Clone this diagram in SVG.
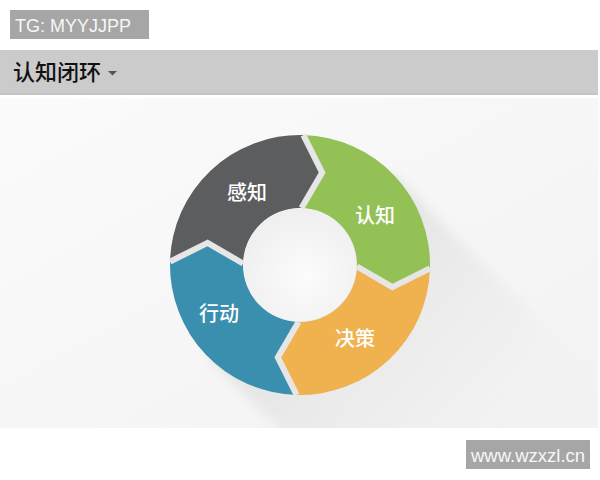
<svg xmlns="http://www.w3.org/2000/svg" width="600" height="480" viewBox="0 0 600 480">
  <defs>
    <style>
      .tag { fill: #a6a6a6; }
      .tagtxt { font-family: "Liberation Sans", Arial, sans-serif; font-size: 18px; fill: #f7f7f7; }
      .title { font-family: "Noto Sans CJK SC", "Noto Sans", sans-serif; font-size: 22px; font-weight: 500; fill: #111111; }
      .lbl { font-family: "Noto Sans CJK SC", "Noto Sans", sans-serif; font-size: 20px; font-weight: 500; fill: #ffffff; text-anchor: middle; }
      .sep { fill: none; stroke: #e6e6e6; stroke-width: 6; stroke-linejoin: miter; }
    </style>
    <linearGradient id="panelGrad" x1="0" y1="0" x2="1" y2="1">
      <stop offset="0" stop-color="#fbfbfb"/>
      <stop offset="1" stop-color="#f2f2f2"/>
    </linearGradient>
    <linearGradient id="shadowGrad" gradientUnits="userSpaceOnUse" x1="300" y1="265" x2="500" y2="465">
      <stop offset="0" stop-color="#d2d2d2" stop-opacity="0.6"/>
      <stop offset="0.6" stop-color="#dedede" stop-opacity="0.25"/>
      <stop offset="1" stop-color="#e8e8e8" stop-opacity="0"/>
    </linearGradient>
    <radialGradient id="holeGrad" cx="0.55" cy="0.6" r="0.6">
      <stop offset="0" stop-color="#fcfcfc"/>
      <stop offset="1" stop-color="#efefef"/>
    </radialGradient>
    <filter id="blur" x="-20%" y="-20%" width="140%" height="140%">
      <feGaussianBlur stdDeviation="6"/>
    </filter>
    <clipPath id="panelClip">
      <rect x="0" y="98" width="598" height="330"/>
    </clipPath>
  </defs>

  <rect x="0" y="0" width="600" height="480" fill="#ffffff"/>

  <!-- tag top -->
  <g id="tag-tg">
    <rect class="tag" x="10" y="10" width="139" height="29"/>
    <text class="tagtxt" x="15" y="32">TG: MYYJJPP</text>
  </g>

  <!-- header bar -->
  <g id="header">
    <rect x="0" y="50" width="598" height="44" fill="#cbcbcb"/>
    <rect x="0" y="93" width="598" height="2" fill="#c4c4c4"/>
    <text class="title" x="13" y="80">认知闭环</text>
    <polygon points="108,71 117,71 112.5,75.5" fill="#555555"/>
  </g>

  <!-- panel -->
  <rect x="0" y="98" width="598" height="330" fill="url(#panelGrad)"/>

  <!-- long shadow -->
  <g clip-path="url(#panelClip)">
    <path d="M392,173 L592,373 L408,557 L208,357 Z" fill="url(#shadowGrad)" filter="url(#blur)"/>
  </g>

  <!-- ring segments -->
  <g id="node-ganzhi">
    <path d="M170.04,261.60 A130,130 0 0 1 303.40,135.04 L322.18,172.63 L301.49,208.02 A57,57 0 0 0 243.02,263.51 L207.63,242.82 Z" fill="#5c5d5f"/>
    <text class="lbl" x="247" y="200">感知</text>
  </g>
  <g id="node-renzhi">
    <path d="M303.40,135.04 A130,130 0 0 1 429.96,268.40 L392.37,287.18 L356.98,266.49 A57,57 0 0 0 301.49,208.02 L322.18,172.63 Z" fill="#93c156"/>
    <text class="lbl" x="375" y="223">认知</text>
  </g>
  <g id="node-juece">
    <path d="M429.96,268.40 A130,130 0 0 1 296.60,394.96 L277.82,357.37 L298.51,321.98 A57,57 0 0 0 356.98,266.49 L392.37,287.18 Z" fill="#efb24f"/>
    <text class="lbl" x="355" y="346">决策</text>
  </g>
  <g id="node-xingdong">
    <path d="M296.60,394.96 A130,130 0 0 1 170.04,261.60 L207.63,242.82 L243.02,263.51 A57,57 0 0 0 298.51,321.98 L277.82,357.37 Z" fill="#3b8fae"/>
    <text class="lbl" x="219" y="321">行动</text>
  </g>

  <!-- hole -->
  <circle cx="300" cy="265" r="56.5" fill="url(#holeGrad)"/>

  <!-- separators -->
  <g id="connectors">
    <polyline class="sep" points="303.40,135.04 322.18,172.63 301.49,208.02"/>
    <polyline class="sep" points="429.96,268.40 392.37,287.18 356.98,266.49"/>
    <polyline class="sep" points="296.60,394.96 277.82,357.37 298.51,321.98"/>
    <polyline class="sep" points="170.04,261.60 207.63,242.82 243.02,263.51"/>
  </g>

  <!-- tag bottom -->
  <g id="tag-site">
    <rect class="tag" x="466" y="440" width="124" height="29"/>
    <text class="tagtxt" x="471" y="462" style="font-size:18.5px">www.wzxzl.cn</text>
  </g>
</svg>
